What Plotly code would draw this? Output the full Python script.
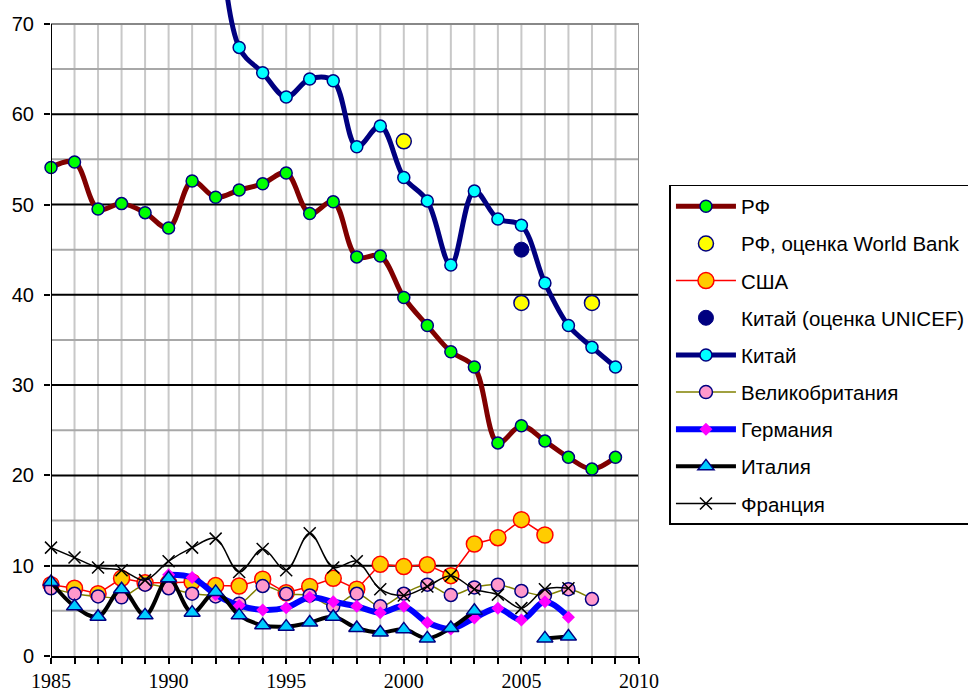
import plotly.graph_objects as go

years = list(range(1985, 2010))

rf = [54.1, 54.7, 49.5, 50.1, 49.1, 47.4, 52.6, 50.8, 51.6, 52.3, 53.5, 49.0, 50.3,
      44.2, 44.3, 39.7, 36.6, 33.7, 32.0, 23.6, 25.5, 23.8, 22.0, 20.7, 22.0]
wb_years = [2000, 2005, 2008]
wb_vals = [57.0, 39.1, 39.1]
usa = [7.9, 7.5, 6.9, 8.6, 8.1, 8.1, 8.2, 7.8, 7.75, 8.5, 7.0, 7.7, 8.6,
       7.4, 10.15, 9.9, 10.1, 8.9, 12.4, 13.1, 15.1, 13.4, None, None, None]
unicef_years = [2005]
unicef_vals = [45.0]
china = [None, None, None, None, None, None, None, 88.0, 67.4, 64.6, 61.9, 63.9, 63.7,
         56.4, 58.7, 53.0, 50.4, 43.3, 51.5, 48.4, 47.7, 41.3, 36.6, 34.2, 32.0]
uk = [7.5, 6.9, 6.6, 6.5, 7.9, 7.5, 6.9, 6.6, 5.8, 7.75, 6.9, 6.7, 5.5,
      6.9, 5.5, 6.9, 7.9, 6.75, 7.6, 7.9, 7.2, 6.7, 7.4, 6.3, None]
germany = [None, None, None, None, None, 9.0, 8.7, 6.8, 5.6, 5.1, 5.35, 6.5, 6.0,
           5.5, 4.8, 5.5, 3.7, 3.0, 4.2, 5.3, 4.0, 6.0, 4.3, None, None]
italy = [8.2, 5.5, 4.35, 7.4, 4.5, 8.6, 4.8, 7.1, 4.5, 3.4, 3.25, 3.7, 4.35,
         3.1, 2.6, 2.95, 1.95, 3.1, 5.0, None, None, 1.95, 2.15, None, None]
france = [12.0, 10.9, 9.8, 9.5, 8.4, 10.5, 12.0, 13.0, 9.3, 11.85, 9.5, 13.6, 9.8,
          10.5, 7.4, 6.7, 7.7, 8.9, 7.4, 6.8, 5.3, 7.4, 7.5, None, None]

x_ticks = list(range(1985, 2011))
x_labels = [str(y) if y % 5 == 0 else "" for y in x_ticks]
y_ticks = list(range(0, 71, 10))

NAVY = "#000080"
fig = go.Figure()

def add(name, x, y, mode, line=None, marker=None, shape="spline"):
    fig.add_trace(go.Scatter(
        x=x, y=y, name=name, mode=mode,
        line=dict(shape=shape, smoothing=1, **(line or {})),
        marker=marker or {}, connectgaps=False, cliponaxis=False,
        legendgroup=name,
    ))

add("РФ", years, rf, "lines+markers",
    line=dict(color="#800000", width=5),
    marker=dict(symbol="circle", size=12, color="#00FF00", line=dict(color=NAVY, width=1.5)))
add("РФ, оценка World Bank", wb_years, wb_vals, "markers",
    marker=dict(symbol="circle", size=15, color="#FFFF00", line=dict(color=NAVY, width=1.5)))
add("США", years, usa, "lines+markers", shape="linear",
    line=dict(color="#FF0000", width=1.5),
    marker=dict(symbol="circle", size=16, color="#FFCC00", line=dict(color="#FF0000", width=1.5)))
add("Китай (оценка UNICEF)", unicef_years, unicef_vals, "markers",
    marker=dict(symbol="circle", size=15, color=NAVY, line=dict(color=NAVY, width=1)))
add("Китай", years, china, "lines+markers",
    line=dict(color=NAVY, width=5),
    marker=dict(symbol="circle", size=12, color="#00FFFF", line=dict(color=NAVY, width=1.5)))
add("Великобритания", years, uk, "lines+markers",
    line=dict(color="#808000", width=1.5),
    marker=dict(symbol="circle", size=13, color="#FF99CC", line=dict(color=NAVY, width=1.5)))
add("Германия", years, germany, "lines+markers",
    line=dict(color="#0000FF", width=6),
    marker=dict(symbol="diamond", size=10, color="#FF00FF", line=dict(width=0)))
add("Италия", years, italy, "lines+markers",
    line=dict(color="#000000", width=4),
    marker=dict(symbol="triangle-up", size=14, color="#00CCFF", line=dict(color=NAVY, width=1.5)))
add("Франция", years, france, "lines+markers",
    line=dict(color="#000000", width=1.5),
    marker=dict(symbol="x-thin", size=12, color="#000000", line=dict(color="#000000", width=1.5)))

shapes = []
for yr in range(1986, 2010):
    shapes.append(dict(type="line", xref="x", yref="y", x0=yr, x1=yr, y0=0, y1=70,
                       line=dict(color="#C8C8C8", width=2), layer="below"))
for v in range(5, 70, 10):
    shapes.append(dict(type="line", xref="x", yref="y", x0=1985, x1=2010, y0=v, y1=v,
                       line=dict(color="#A8A8A8", width=2), layer="below"))
for v in range(10, 70, 10):
    shapes.append(dict(type="line", xref="x", yref="y", x0=1985, x1=2010, y0=v, y1=v,
                       line=dict(color="#000000", width=2), layer="below"))
shapes.append(dict(type="line", xref="x", yref="y", x0=1985, x1=2010, y0=70, y1=70,
                   line=dict(color="#888888", width=2), layer="below"))
shapes.append(dict(type="line", xref="x", yref="y", x0=2010, x1=2010, y0=0, y1=70,
                   line=dict(color="#888888", width=2), layer="below"))
shapes.append(dict(type="line", xref="x", yref="y", x0=1985, x1=1985, y0=0, y1=70,
                   line=dict(color="#000000", width=2), layer="above"))

fig.update_layout(
    width=968, height=691,
    margin=dict(l=51, r=328.5, t=0, b=35, autoexpand=False),
    paper_bgcolor="white", plot_bgcolor="white",
    showlegend=True,
    shapes=shapes,
    xaxis=dict(range=[1985, 2010], tickvals=x_ticks, ticktext=x_labels, automargin=False,
               showgrid=False, zeroline=False, showline=True, linecolor="#000000", linewidth=2,
               ticks="outside", ticklen=6, tickwidth=2, tickcolor="#000000",
               tickfont=dict(family="Liberation Serif, Times New Roman, serif", size=20, color="#000000")),
    yaxis=dict(range=[0, 72.65], tickvals=y_ticks, showgrid=False, zeroline=False, showline=False,
               automargin=False, ticklabelstandoff=6,
               ticks="outside", ticklen=6, tickwidth=2, tickcolor="#000000",
               tickfont=dict(family="Liberation Sans, Arial, sans-serif", size=20, color="#000000")),
    legend=dict(x=1.0518, y=0.718, xanchor="left", yanchor="top",
                bordercolor="#000000", borderwidth=1.5, bgcolor="white",
                font=dict(family="Liberation Sans, Arial, sans-serif", size=20.5, color="#000000"),
                itemwidth=60, traceorder="grouped", tracegroupgap=7.5),
)

fig.write_html("out.html", config={"displayModeBar": False},
               post_script="document.body.style.margin='0';document.body.style.padding='0';")
